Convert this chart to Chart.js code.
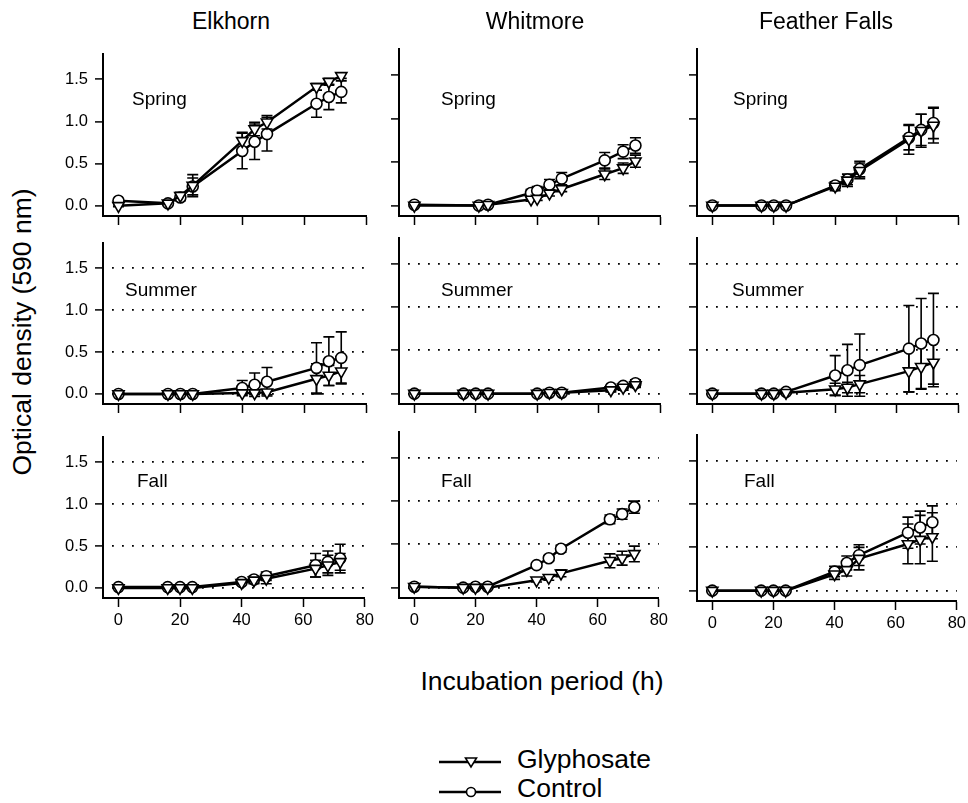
<!DOCTYPE html>
<html>
<head>
<meta charset="utf-8">
<script src="https://cdn.jsdelivr.net/npm/chart.js@4.4.1/dist/chart.umd.min.js"></script>
<style>
  body { margin: 0; background: #fff; overflow: hidden; font-family: "Liberation Sans", Arial, sans-serif; color: #000; }
  #page { position: relative; width: 968px; height: 803px; overflow: hidden; }
  canvas, .txt { position: absolute; }
  .txt { white-space: nowrap; line-height: 1; }
</style>
</head>
<body>
<div id="page"></div>
<script>
// sampling times (h)
const hours = [0, 16, 20, 24, 40, 44, 48, 64, 68, 72];
const hoursWhitmoreSpring = [0, 21, 24, 38, 40, 44, 48, 62, 68, 72];
const sites = ['Elkhorn', 'Whitmore', 'Feather Falls'];
const seasons = ['Spring', 'Summer', 'Fall'];
const xTicks = [0, 20, 40, 60, 80];
const yTicks = [0, 0.5, 1.0, 1.5];

// Elkhorn
const elkSpringGly = [0.0, 0.03, 0.12, 0.24, 0.77, 0.91, 0.99, 1.41, 1.47, 1.54];
const elkSpringGlyErr = [0.01, 0.01, 0.04, 0.13, 0.10, 0.08, 0.08, 0.04, 0.04, 0.03];
const elkSpringCtl = [0.06, 0.03, 0.10, 0.23, 0.65, 0.76, 0.85, 1.21, 1.29, 1.35];
const elkSpringCtlErr = [0.02, 0.01, 0.04, 0.10, 0.21, 0.21, 0.20, 0.16, 0.15, 0.13];
const elkSummerGly = [0, 0, 0, 0, 0.01, 0.01, 0.02, 0.18, 0.22, 0.27];
const elkSummerGlyErr = [0, 0, 0, 0, 0.02, 0.02, 0.03, 0.18, 0.12, 0.14];
const elkSummerCtl = [0, 0, 0, 0, 0.07, 0.11, 0.145, 0.31, 0.39, 0.43];
const elkSummerCtlErr = [0, 0, 0, 0, 0.09, 0.14, 0.17, 0.30, 0.29, 0.31];
const elkFallGly = [0, 0, 0, 0, 0.06, 0.09, 0.11, 0.23, 0.27, 0.31];
const elkFallGlyErr = [0, 0, 0, 0, 0.02, 0.04, 0.06, 0.10, 0.12, 0.10];
const elkFallCtl = [0.01, 0.01, 0.01, 0.01, 0.07, 0.10, 0.14, 0.27, 0.31, 0.35];
const elkFallCtlErr = [0, 0, 0, 0, 0.02, 0.04, 0.05, 0.14, 0.13, 0.17];

// Whitmore
const whiSpringGly = [0.0, 0.0, 0.01, 0.07, 0.08, 0.14, 0.19, 0.36, 0.43, 0.51];
const whiSpringGlyErr = [0.01, 0.01, 0.01, 0.02, 0.02, 0.03, 0.03, 0.06, 0.06, 0.07];
const whiSpringCtl = [0.01, 0.0, 0.01, 0.145, 0.17, 0.24, 0.31, 0.52, 0.62, 0.69];
const whiSpringCtlErr = [0.01, 0.01, 0.01, 0.04, 0.05, 0.06, 0.07, 0.09, 0.08, 0.09];
const whiSummerGly = [0, 0, 0, 0, 0, 0.01, 0.01, 0.04, 0.07, 0.10];
const whiSummerGlyErr = [0, 0, 0, 0, 0.01, 0.01, 0.01, 0.02, 0.03, 0.03];
const whiSummerCtl = [0, 0, 0, 0, 0, 0.01, 0.01, 0.07, 0.09, 0.12];
const whiSummerCtlErr = [0, 0, 0, 0, 0.01, 0.01, 0.01, 0.02, 0.03, 0.04];
const whiFallGly = [0.01, 0, 0, 0, 0.085, 0.115, 0.165, 0.31, 0.34, 0.39];
const whiFallGlyErr = [0.01, 0.01, 0.01, 0.01, 0.02, 0.03, 0.04, 0.08, 0.08, 0.09];
const whiFallCtl = [0.01, 0, 0.01, 0.01, 0.26, 0.34, 0.45, 0.79, 0.85, 0.93];
const whiFallCtlErr = [0.01, 0.01, 0.01, 0.01, 0.02, 0.03, 0.04, 0.05, 0.06, 0.07];

// Feather Falls
const ffSpringGly = [0, 0, 0, 0, 0.22, 0.29, 0.40, 0.76, 0.86, 0.92];
const ffSpringGlyErr = [0.01, 0.01, 0.01, 0.01, 0.05, 0.07, 0.09, 0.17, 0.19, 0.20];
const ffSpringCtl = [0, 0, 0, 0, 0.23, 0.30, 0.42, 0.78, 0.87, 0.95];
const ffSpringCtlErr = [0.01, 0.01, 0.01, 0.01, 0.04, 0.06, 0.09, 0.14, 0.18, 0.18];
const ffSummerGly = [0, 0, 0, 0.01, 0.05, 0.07, 0.11, 0.26, 0.31, 0.36];
const ffSummerGlyErr = [0, 0, 0, 0.01, 0.07, 0.06, 0.10, 0.24, 0.26, 0.25];
const ffSummerCtl = [0, 0, 0, 0.02, 0.21, 0.27, 0.33, 0.52, 0.58, 0.62];
const ffSummerCtlErr = [0, 0, 0, 0.01, 0.23, 0.30, 0.36, 0.50, 0.52, 0.54];
const ffFallGly = [0, 0, 0, 0, 0.19, 0.24, 0.37, 0.54, 0.59, 0.62];
const ffFallGlyErr = [0.01, 0.01, 0.01, 0.01, 0.06, 0.07, 0.13, 0.23, 0.28, 0.28];
const ffFallCtl = [0, 0, 0, 0, 0.22, 0.32, 0.41, 0.67, 0.73, 0.79];
const ffFallCtlErr = [0.01, 0.01, 0.01, 0.01, 0.06, 0.08, 0.12, 0.18, 0.19, 0.19];

const panels = [
  { row: 0, col: 0, t: hours, gly: elkSpringGly, glyErr: elkSpringGlyErr, ctl: elkSpringCtl, ctlErr: elkSpringCtlErr },
  { row: 0, col: 1, t: hoursWhitmoreSpring, gly: whiSpringGly, glyErr: whiSpringGlyErr, ctl: whiSpringCtl, ctlErr: whiSpringCtlErr },
  { row: 0, col: 2, t: hours, gly: ffSpringGly, glyErr: ffSpringGlyErr, ctl: ffSpringCtl, ctlErr: ffSpringCtlErr },
  { row: 1, col: 0, t: hours, gly: elkSummerGly, glyErr: elkSummerGlyErr, ctl: elkSummerCtl, ctlErr: elkSummerCtlErr },
  { row: 1, col: 1, t: hours, gly: whiSummerGly, glyErr: whiSummerGlyErr, ctl: whiSummerCtl, ctlErr: whiSummerCtlErr },
  { row: 1, col: 2, t: hours, gly: ffSummerGly, glyErr: ffSummerGlyErr, ctl: ffSummerCtl, ctlErr: ffSummerCtlErr },
  { row: 2, col: 0, t: hours, gly: elkFallGly, glyErr: elkFallGlyErr, ctl: elkFallCtl, ctlErr: elkFallCtlErr },
  { row: 2, col: 1, t: hours, gly: whiFallGly, glyErr: whiFallGlyErr, ctl: whiFallCtl, ctlErr: whiFallCtlErr },
  { row: 2, col: 2, t: hours, gly: ffFallGly, glyErr: ffFallGlyErr, ctl: ffFallCtl, ctlErr: ffFallCtlErr, shift: 3 },
];

// plot-area placement on the page
const colLeft = [103, 399, 697], colRight = [366, 660, 958];
const rowTop = [49, 238, 432], rowBottom = [216, 404, 598];
const PAD_T = 12, PAD_R = 12, Y_W = 50, X_H = 32;

const page = document.getElementById('page');
Chart.defaults.font.family = '"Liberation Sans", Arial, sans-serif';
Chart.defaults.color = '#000';

function addText(str, left, baseline, size, center) {
  const d = document.createElement('div');
  d.className = 'txt';
  d.textContent = str;
  d.style.fontSize = size + 'px';
  d.style.left = left + 'px';
  d.style.top = (baseline - 0.8465 * size) + 'px';
  if (center) d.style.transform = 'translateX(-50%)';
  page.appendChild(d);
  return d;
}

// error bars drawn under the lines, through the chart's scales
const errorBars = {
  id: 'errorBars',
  beforeDatasetsDraw(chart) {
    const { ctx, scales: { x, y } } = chart;
    ctx.save();
    ctx.strokeStyle = '#000';
    ctx.lineWidth = 1.6;
    chart.data.datasets.forEach(ds => {
      ds.data.forEach((pt, i) => {
        const e = ds.errors[i];
        if (!e || pt.y == null) return;
        const px = x.getPixelForValue(pt.x);
        const hi = y.getPixelForValue(pt.y + e);
        const lo = y.getPixelForValue(pt.y - e);
        ctx.beginPath();
        ctx.moveTo(px, hi); ctx.lineTo(px, lo);
        ctx.moveTo(px - 5.5, hi); ctx.lineTo(px + 5.5, hi);
        ctx.moveTo(px - 5.5, lo); ctx.lineTo(px + 5.5, lo);
        ctx.stroke();
      });
    });
    ctx.restore();
  }
};

panels.forEach(p => {
  const left = colLeft[p.col], right = colRight[p.col];
  const top = rowTop[p.row] + (p.shift || 0), bottom = rowBottom[p.row] + (p.shift || 0);
  const w = right - left + Y_W + PAD_R, h = bottom - top + PAD_T + X_H;
  const cv = document.createElement('canvas');
  cv.width = w; cv.height = h;
  cv.style.width = w + 'px'; cv.style.height = h + 'px';
  cv.style.left = (left - Y_W) + 'px';
  cv.style.top = (top - PAD_T) + 'px';
  page.appendChild(cv);

  const line = {
    borderColor: '#000', borderWidth: 2.5, tension: 0, spanGaps: true,
    pointBackgroundColor: '#fff', pointBorderColor: '#000', pointBorderWidth: 1.6
  };

  new Chart(cv.getContext('2d'), {
    type: 'line',
    data: {
      datasets: [
        Object.assign({
          label: 'Glyphosate',
          data: p.t.map((t, i) => ({ x: t, y: p.gly[i] })),
          errors: p.glyErr,
          pointStyle: 'triangle', pointRotation: 180, pointRadius: 6.5
        }, line),
        Object.assign({
          label: 'Control',
          data: p.t.map((t, i) => ({ x: t, y: p.ctl[i] })),
          errors: p.ctlErr,
          pointStyle: 'circle', pointRadius: 5.5
        }, line)
      ]
    },
    options: {
      responsive: false,
      animation: false,
      events: [],
      layout: { padding: { top: PAD_T, right: PAD_R, left: 0, bottom: 0 } },
      plugins: { legend: { display: false }, tooltip: { enabled: false } },
      scales: {
        x: {
          type: 'linear', min: -5, max: 80,
          afterBuildTicks: s => { s.ticks = xTicks.map(v => ({ value: v })); },
          afterFit: s => { s.height = X_H; },
          border: { display: true, color: '#000', width: 2 },
          grid: { drawOnChartArea: false, tickLength: 9, tickWidth: 1.5, tickColor: '#000' },
          ticks: { display: p.row === 2, padding: 4, color: '#000', font: { size: 16.5 }, maxRotation: 0 }
        },
        y: {
          type: 'linear', min: -0.12, max: 1.8,
          afterBuildTicks: s => { s.ticks = yTicks.map(v => ({ value: v })); },
          afterFit: s => { s.width = Y_W; },
          border: { display: true, color: '#000', width: 2, dash: [1.8, 8.2], dashOffset: -8 },
          grid: { drawOnChartArea: p.row > 0, color: '#000', lineWidth: 1.8, tickLength: 8, tickWidth: 1.5, tickColor: '#000' },
          ticks: { display: p.col === 0, padding: 7, color: '#000', font: { size: 16.5 }, callback: v => v.toFixed(1) }
        }
      }
    },
    plugins: [errorBars]
  });
});

// site titles
const titleCenters = [231, 535, 826];
sites.forEach((s, i) => addText(s, titleCenters[i], 29, 23, true));

// season labels inside each panel
const seasonBaselines = [105, 296, 487];
const seasonLefts = [[132, 441, 733], [125, 441, 732], [137, 441, 744]];
seasons.forEach((s, r) => seasonLefts[r].forEach(x => addText(s, x, seasonBaselines[r], 19)));

// axis titles
addText('Incubation period (h)', 542, 690, 26.5, true);
const yl = addText('Optical density (590 nm)', 22, 332, 26.5, false);
yl.style.top = '332px';
yl.style.transform = 'translate(-50%, -50%) rotate(-90deg)';

// legend
const lg = document.createElementNS('http://www.w3.org/2000/svg', 'svg');
lg.setAttribute('width', '62'); lg.setAttribute('height', '50');
lg.style.position = 'absolute'; lg.style.left = '439px'; lg.style.top = '750px';
lg.innerHTML =
  '<line x1="0" y1="12" x2="62" y2="12" stroke="#000" stroke-width="2.5"/>' +
  '<polygon points="26.5,8 37.5,8 32,17" fill="#fff" stroke="#000" stroke-width="1.6"/>' +
  '<line x1="0" y1="42" x2="62" y2="42" stroke="#000" stroke-width="2.5"/>' +
  '<circle cx="32" cy="42" r="4.5" fill="#fff" stroke="#000" stroke-width="1.6"/>';
page.appendChild(lg);
addText('Glyphosate', 517, 768, 26.5);
addText('Control', 517, 797, 26.5);
</script>
</body>
</html>
